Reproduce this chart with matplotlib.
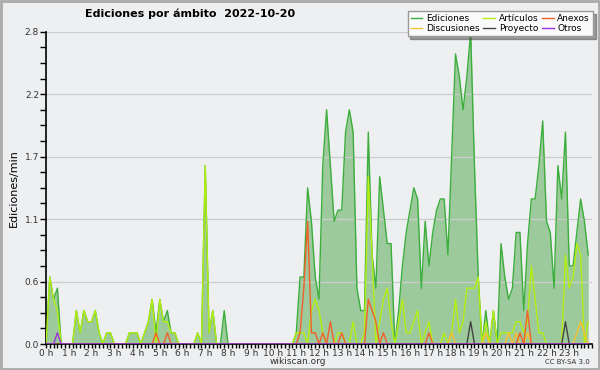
import numpy as np
import matplotlib.pyplot as plt
from matplotlib.patches import Rectangle
from matplotlib.ticker import MultipleLocator, FixedLocator, FormatStrFormatter

# one value every 10 minutes, 2 hours per row
ediciones = [
    0, 0.6, 0.4, 0.5, 0, 0, 0, 0, 0.3, 0.1, 0.3, 0.2,
    0.2, 0.3, 0.1, 0, 0.1, 0.1, 0, 0, 0, 0, 0.1, 0.1,
    0.1, 0, 0.1, 0.2, 0.4, 0.1, 0.4, 0.2, 0.3, 0.1, 0.1, 0,
    0, 0, 0, 0, 0.1, 0, 1.6, 0.1, 0.3, 0, 0, 0.3,
    0, 0, 0, 0, 0, 0, 0, 0, 0, 0, 0, 0,
    0, 0, 0, 0, 0, 0, 0.1, 0.6, 0.6, 1.4, 1.1, 0.6,
    0.4, 1.6, 2.1, 1.6, 1.1, 1.2, 1.2, 1.9, 2.1, 1.9, 0.5, 0.3,
    0.3, 1.9, 0.8, 0.5, 1.5, 1.2, 0.9, 0.9, 0, 0.3, 0.7, 1.0,
    1.2, 1.4, 1.3, 0.5, 1.1, 0.7, 1.0, 1.2, 1.3, 1.3, 0.8, 1.7,
    2.6, 2.4, 2.1, 2.4, 2.8, 1.6, 0.6, 0, 0.3, 0, 0.3, 0,
    0.9, 0.6, 0.4, 0.5, 1.0, 1.0, 0.3, 0.9, 1.3, 1.3, 1.6, 2.0,
    1.1, 1.0, 0.5, 1.6, 1.3, 1.9, 0.7, 0.7, 1.0, 1.3, 1.1, 0.8,
]
articulos = [
    0, 0.6, 0.4, 0.3, 0, 0, 0, 0, 0.3, 0.1, 0.3, 0.2,
    0.2, 0.3, 0.1, 0, 0.1, 0.1, 0, 0, 0, 0, 0.1, 0.1,
    0.1, 0, 0.1, 0.2, 0.4, 0, 0.4, 0.2, 0.2, 0.1, 0.1, 0,
    0, 0, 0, 0, 0.1, 0, 1.6, 0.1, 0.3, 0, 0, 0,
    0, 0, 0, 0, 0, 0, 0, 0, 0, 0, 0, 0,
    0, 0, 0, 0, 0, 0, 0.1, 0.1, 0.1, 0, 0.3, 0.4,
    0.3, 0.1, 0, 0, 0, 0.1, 0.1, 0, 0, 0.2, 0, 0,
    0.1, 1.5, 0.8, 0, 0.2, 0.4, 0.5, 0.2, 0, 0.2, 0.4, 0.1,
    0.1, 0.2, 0.3, 0, 0.1, 0.2, 0, 0, 0, 0.1, 0, 0.1,
    0.4, 0.1, 0.2, 0.5, 0.5, 0.5, 0.6, 0, 0.2, 0, 0.3, 0,
    0.1, 0.1, 0.1, 0.1, 0.2, 0.2, 0.1, 0.2, 0.7, 0.4, 0.1, 0.1,
    0, 0, 0, 0, 0, 0.8, 0.5, 0.6, 0.9, 0.8, 0, 0.2,
]
anexos = [
    0, 0, 0, 0, 0, 0, 0, 0, 0, 0, 0, 0,
    0, 0, 0, 0, 0, 0, 0, 0, 0, 0, 0, 0,
    0, 0, 0, 0, 0, 0.1, 0, 0, 0.1, 0, 0, 0,
    0, 0, 0, 0, 0, 0, 0, 0, 0, 0, 0, 0,
    0, 0, 0, 0, 0, 0, 0, 0, 0, 0, 0, 0,
    0, 0, 0, 0, 0, 0, 0, 0.1, 0.5, 1.1, 0.1, 0.1,
    0, 0.1, 0, 0.2, 0, 0, 0.1, 0, 0, 0, 0, 0,
    0, 0.4, 0.3, 0.2, 0, 0.1, 0, 0, 0, 0, 0, 0,
    0, 0, 0, 0, 0, 0.1, 0, 0, 0, 0, 0, 0,
    0, 0, 0, 0, 0, 0, 0, 0, 0, 0, 0, 0,
    0, 0, 0, 0, 0, 0.1, 0, 0.3, 0, 0, 0, 0,
    0, 0, 0, 0, 0, 0, 0, 0, 0, 0, 0, 0,
]
discusiones = [
    0, 0, 0, 0, 0, 0, 0, 0, 0, 0, 0, 0,
    0, 0, 0, 0, 0, 0, 0, 0, 0, 0, 0, 0,
    0, 0, 0, 0, 0, 0, 0, 0, 0, 0, 0, 0,
    0, 0, 0, 0, 0, 0, 0, 0, 0, 0, 0, 0,
    0, 0, 0, 0, 0, 0, 0, 0, 0, 0, 0, 0,
    0, 0, 0, 0, 0, 0, 0, 0, 0, 0, 0, 0,
    0, 0, 0, 0, 0, 0, 0, 0, 0, 0, 0, 0,
    0, 0, 0, 0, 0, 0, 0, 0, 0, 0, 0, 0,
    0, 0, 0, 0, 0, 0, 0, 0, 0, 0, 0, 0.1,
    0, 0, 0, 0, 0, 0, 0, 0, 0.1, 0, 0, 0,
    0, 0, 0.1, 0, 0.1, 0, 0, 0.1, 0, 0, 0, 0,
    0, 0, 0, 0, 0, 0, 0, 0, 0.1, 0.2, 0.1, 0,
]
proyecto = [
    0, 0, 0, 0, 0, 0, 0, 0, 0, 0, 0, 0,
    0, 0, 0, 0, 0, 0, 0, 0, 0, 0, 0, 0,
    0, 0, 0, 0, 0, 0, 0, 0, 0, 0, 0, 0,
    0, 0, 0, 0, 0, 0, 0, 0, 0, 0, 0, 0,
    0, 0, 0, 0, 0, 0, 0, 0, 0, 0, 0, 0,
    0, 0, 0, 0, 0, 0, 0, 0, 0, 0, 0, 0,
    0, 0, 0, 0, 0, 0, 0, 0, 0, 0, 0, 0,
    0, 0, 0, 0, 0, 0, 0, 0, 0, 0, 0, 0,
    0, 0, 0, 0, 0, 0, 0, 0, 0, 0, 0, 0,
    0, 0, 0, 0, 0.2, 0, 0, 0, 0, 0, 0, 0,
    0, 0, 0, 0, 0, 0, 0, 0, 0, 0, 0, 0,
    0, 0, 0, 0, 0, 0.2, 0, 0, 0, 0, 0, 0,
]
otros = [
    0, 0, 0, 0.1, 0, 0, 0, 0, 0, 0, 0, 0,
    0, 0, 0, 0, 0, 0, 0, 0, 0, 0, 0, 0,
    0, 0, 0, 0, 0, 0, 0, 0, 0, 0, 0, 0,
    0, 0, 0, 0, 0, 0, 0, 0, 0, 0, 0, 0,
    0, 0, 0, 0, 0, 0, 0, 0, 0, 0, 0, 0,
    0, 0, 0, 0, 0, 0, 0, 0, 0, 0, 0, 0,
    0, 0, 0, 0, 0, 0, 0, 0, 0, 0, 0, 0,
    0, 0, 0, 0, 0, 0, 0, 0, 0, 0, 0, 0,
    0, 0, 0, 0, 0, 0, 0, 0, 0, 0, 0, 0,
    0, 0, 0, 0, 0, 0, 0, 0, 0, 0, 0, 0,
    0, 0, 0, 0, 0, 0, 0, 0, 0, 0, 0, 0,
    0, 0, 0, 0, 0, 0, 0, 0, 0, 0, 0, 0,
]
hour_labels = ["%d h" % h for h in range(24)]

bg = "#eeeff1"
t = np.arange(len(ediciones)) / 6.0

fig = plt.figure(figsize=(6, 3.7), dpi=100, facecolor=bg)
ax = fig.add_axes([46 / 600, 26 / 370, 546 / 600, 312.3 / 370])
ax.set_facecolor(bg)

ax.fill_between(t, ediciones, color="#9dca9d", lw=0, zorder=1)
series = [
    ("Ediciones", ediciones, "#3cae3c"),
    ("Discusiones", discusiones, "#f5c22e"),
    ("Artículos", articulos, "#b4ee10"),
    ("Proyecto", proyecto, "#444444"),
    ("Anexos", anexos, "#f2602a"),
    ("Otros", otros, "#9a32dc"),
]
draw_order = ["Ediciones", "Artículos", "Discusiones", "Anexos", "Proyecto", "Otros"]
handles = {}
for name, vals, col in series:
    z = 2 + draw_order.index(name)
    (ln,) = ax.plot(t, vals, color=col, lw=1.0, zorder=z)
    handles[name] = ln

ax.set_xlim(0, 24)
ax.set_ylim(0, 2.8)

ax.yaxis.set_major_locator(FixedLocator([0, 0.56, 1.12, 1.68, 2.24, 2.8]))
ax.yaxis.set_major_formatter(FormatStrFormatter("%.1f"))
ax.yaxis.set_minor_locator(MultipleLocator(0.14))
ax.xaxis.set_major_locator(FixedLocator(range(24)))
ax.set_xticklabels(hour_labels)
ax.xaxis.set_minor_locator(MultipleLocator(1 / 6))
ax.tick_params(axis="both", which="both", direction="out", color="black",
               labelsize=6.5, labelcolor="#333333", width=1)
ax.tick_params(axis="x", which="both", length=3, pad=0.5)
ax.tick_params(axis="y", which="both", length=4, pad=1)
ax.grid(axis="y", which="major", color="#cccccc", lw=0.9, zorder=0)
for s in ["top", "right"]:
    ax.spines[s].set_visible(False)
for s in ["left", "bottom"]:
    ax.spines[s].set_color("black")
    ax.spines[s].set_linewidth(1.2)

ax.set_ylabel("Ediciones/min", fontsize=8, labelpad=4)

fig.text(85 / 600, 1 - 14 / 370, "Ediciones por ámbito  2022-10-20",
         fontsize=8, fontweight="bold", ha="left", va="center")
fig.text(298 / 600, 1 - 361.5 / 370, "wikiscan.org", fontsize=6.5,
         ha="center", va="center", color="#333333")
fig.text(590 / 600, 1 - 362 / 370, "CC BY-SA 3.0", fontsize=5,
         ha="right", va="center", color="#333333")

names = [s[0] for s in series]
leg = fig.legend([handles[n] for n in names], names, ncol=3,
                 loc="upper right", bbox_to_anchor=(593 / 600, 1 - 11 / 370),
                 fontsize=6.5, frameon=True, shadow=True, fancybox=False,
                 handlelength=1.3, handletextpad=0.4, columnspacing=0.4,
                 labelspacing=0.1, borderpad=0.35, borderaxespad=0)
leg.get_frame().set_edgecolor("#999999")
leg.get_frame().set_facecolor("#fafafa")

fig.patches.append(Rectangle((0.0015, 0.0025), 0.997, 0.995, transform=fig.transFigure,
                             fill=False, edgecolor="#aaaaaa", lw=2))

plt.savefig("out.png", dpi=100, facecolor=bg)
